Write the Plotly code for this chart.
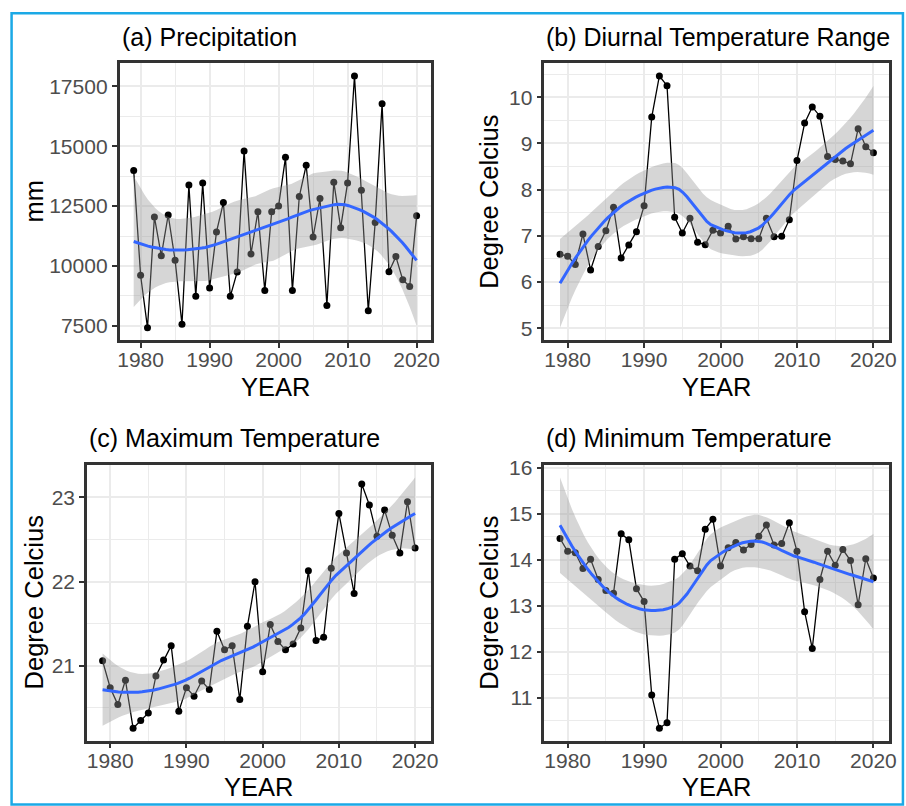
import numpy as np
import plotly.graph_objects as go

# ---- data -------------------------------------------------------------
years = list(range(1979, 2021))

precipitation = [13990, 9610, 7420, 12050, 10430, 12130, 10240, 7560, 13380, 8730,
                 13470, 9080, 11420, 12650, 8730, 9750, 14800, 10500, 12270, 8970,
                 12270, 12510, 14540, 8970, 12900, 14210, 11210, 12820, 8350, 13500,
                 11600, 13470, 17940, 13160, 8130, 11820, 16780, 9760, 10390, 9420,
                 9140, 12100]

diurnal_range = [6.60, 6.56, 6.38, 7.04, 6.26, 6.77, 7.11, 7.62, 6.52, 6.80,
                 7.09, 7.65, 9.57, 10.46, 10.25, 7.40, 7.06, 7.38, 6.86, 6.81,
                 7.12, 7.06, 7.21, 6.93, 6.98, 6.94, 6.94, 7.38, 6.98, 6.99,
                 7.35, 8.63, 9.44, 9.79, 9.59, 8.72, 8.65, 8.62, 8.56, 9.32,
                 8.93, 8.80]

max_temp = [21.06, 20.74, 20.54, 20.83, 20.26, 20.35, 20.44, 20.88, 21.07, 21.24,
            20.46, 20.74, 20.64, 20.82, 20.72, 21.41, 21.19, 21.24, 20.60, 21.47,
            22.00, 20.93, 21.49, 21.29, 21.19, 21.26, 21.45, 22.13, 21.30, 21.34,
            22.16, 22.81, 22.34, 21.86, 23.16, 22.91, 22.54, 22.85, 22.55, 22.34,
            22.95, 22.40]

min_temp = [14.46, 14.18, 14.15, 13.81, 14.01, 13.57, 13.33, 13.27, 14.56, 14.43,
            13.37, 13.09, 11.06, 10.34, 10.46, 14.01, 14.13, 13.86, 13.76, 14.66,
            14.88, 13.86, 14.26, 14.37, 14.21, 14.33, 14.51, 14.75, 14.32, 14.35,
            14.80, 14.18, 12.87, 12.07, 13.57, 14.18, 13.88, 14.22, 13.98, 13.02,
            14.02, 13.60]

panel_titles = ["(a) Precipitation", "(b) Diurnal Temperature Range",
                "(c) Maximum Temperature", "(d) Minimum Temperature"]
y_titles = ["mm", "Degree Celcius", "Degree Celcius", "Degree Celcius"]
x_title = "YEAR"
x_ticks = [1980, 1990, 2000, 2010, 2020]
y_ticks = [[7500, 10000, 12500, 15000, 17500],
           [5, 6, 7, 8, 9, 10],
           [21, 22, 23],
           [11, 12, 13, 14, 15, 16]]


# ---- loess smoother (span 0.75, degree 2, kd-tree interpolation) ------
def t_975(df):
    # Cornish-Fisher expansion of the Student t 97.5% quantile
    z = 1.959963984540054
    g1 = (z**3 + z) / 4
    g2 = (5*z**5 + 16*z**3 + 3*z) / 96
    g3 = (3*z**7 + 19*z**5 + 17*z**3 - 15*z) / 384
    g4 = (79*z**9 + 776*z**7 + 1482*z**5 - 1920*z**3 - 945*z) / 92160
    return z + g1/df + g2/df**2 + g3/df**3 + g4/df**4


def loess_band(x, y, xs, span=0.75, cell=0.2):
    x = np.asarray(x, float)
    y = np.asarray(y, float)
    n = len(x)
    q = int(np.floor(n * span + 1e-5))
    fc = int(np.floor(n * span * cell))
    xsrt = np.sort(x)

    # local quadratic operator rows (value and slope) at x0
    def local(x0):
        d = np.abs(x - x0)
        h = np.sort(d)[q - 1]
        w = np.clip(1 - (d / h) ** 3, 0, None) ** 3
        X = np.column_stack([np.ones(n), x - x0, (x - x0) ** 2])
        XtW = X.T * w
        B = np.linalg.solve(XtW @ X, XtW)
        return B[0], B[1]

    # kd-tree vertices
    mu = 0.005 * (xsrt[-1] - xsrt[0])
    lo_v, hi_v = xsrt[0] - mu, xsrt[-1] + mu
    cuts = []

    def build(l, u, a, b):
        if u - l + 1 <= fc:
            return
        m = (l + u) // 2
        t = xsrt[m - 1]
        if t == a or t == b:
            return
        cuts.append(t)
        build(l, m, a, t)
        build(m + 1, u, t, b)

    build(1, n, lo_v, hi_v)
    verts = np.array(sorted([lo_v, hi_v] + cuts))
    V, S = zip(*[local(v) for v in verts])
    V, S = np.array(V), np.array(S)

    def rows(pts):
        out = []
        for p in pts:
            j = int(np.clip(np.searchsorted(verts, p, side="right") - 1,
                            0, len(verts) - 2))
            wd = verts[j + 1] - verts[j]
            h = (p - verts[j]) / wd
            phi0 = (1 - h) ** 2 * (1 + 2 * h)
            phi1 = h ** 2 * (3 - 2 * h)
            psi0 = h * (1 - h) ** 2
            psi1 = -h ** 2 * (1 - h)
            out.append(phi0 * V[j] + phi1 * V[j + 1]
                       + (psi0 * S[j] + psi1 * S[j + 1]) * wd)
        return np.array(out)

    L = rows(x)
    Lp = rows(xs)
    fit = Lp @ y
    resid = y - L @ y
    M = np.eye(n) - L
    MtM = M.T @ M
    d1 = np.trace(MtM)
    d2 = np.trace(MtM @ MtM)
    s = np.sqrt(resid @ resid / d1)
    se = s * np.sqrt((Lp ** 2).sum(axis=1))
    t = t_975(d1 ** 2 / d2)
    return fit, fit - t * se, fit + t * se


# ---- layout geometry (pixels) -----------------------------------------
W, H = 906, 806
# (left, right, top, bottom) of each plotting panel
boxes = [(119, 434, 55, 335), (549, 898, 55, 335),
         (86, 434, 461, 740), (549, 898, 461, 740)]


def px(x, y):
    return x / W, 1 - y / H


FONT = "Liberation Sans, Arial, sans-serif"
series = [precipitation, diurnal_range, max_temp, min_temp]
xs = np.linspace(min(years), max(years), 80)

fig = go.Figure()
layout = dict(width=W, height=H, margin=dict(l=0, r=0, t=0, b=0),
              paper_bgcolor="white", plot_bgcolor="white", showlegend=False,
              font=dict(family=FONT))
annotations = []

for i, vals in enumerate(series):
    k = "" if i == 0 else str(i + 1)
    xa, ya = "x" + k, "y" + k
    fit, lo, hi = loess_band(years, vals, xs)

    fig.add_trace(go.Scatter(x=years, y=vals, mode="lines+markers",
                             line=dict(color="black", width=1.3),
                             marker=dict(color="black", size=7),
                             xaxis=xa, yaxis=ya, hoverinfo="skip"))
    fig.add_trace(go.Scatter(x=xs, y=lo, mode="lines", line=dict(width=0),
                             xaxis=xa, yaxis=ya, hoverinfo="skip"))
    fig.add_trace(go.Scatter(x=xs, y=hi, mode="lines", line=dict(width=0),
                             fill="tonexty", fillcolor="rgba(153,153,153,0.4)",
                             xaxis=xa, yaxis=ya, hoverinfo="skip"))
    fig.add_trace(go.Scatter(x=xs, y=fit, mode="lines",
                             line=dict(color="#3366FF", width=3),
                             xaxis=xa, yaxis=ya, hoverinfo="skip"))

    l, r, t, b = boxes[i]
    x0, y0 = px(l, b)
    x1, y1 = px(r, t)

    ymin = min(min(vals), lo.min())
    ymax = max(max(vals), hi.max())
    ypad = 0.05 * (ymax - ymin)
    xpad = 0.05 * (max(years) - min(years))
    yt = y_ticks[i]
    ystep = yt[1] - yt[0]

    common = dict(showline=True, mirror=True, linecolor="#333333", linewidth=2.5,
                  ticks="outside", ticklen=5, tickwidth=1.5, tickcolor="#333333",
                  showgrid=True, gridcolor="#EBEBEB", gridwidth=1.5, zeroline=False,
                  tickfont=dict(size=21, color="#4D4D4D", family=FONT))
    layout["xaxis" + k] = dict(common, domain=[x0, x1], anchor=ya,
                               range=[min(years) - xpad, max(years) + xpad],
                               tickmode="array", tickvals=x_ticks,
                               ticktext=[str(v) for v in x_ticks],
                               ticklabelstandoff=-6,
                               minor=dict(tickmode="linear", tick0=1975, dtick=5,
                                          showgrid=True, gridcolor="#EBEBEB",
                                          gridwidth=0.8))
    layout["yaxis" + k] = dict(common, domain=[y0, y1], anchor=xa,
                               range=[ymin - ypad, ymax + ypad],
                               tickmode="array", tickvals=yt,
                               ticktext=[str(v) for v in yt],
                               minor=dict(tickmode="linear", tick0=yt[0] - ystep / 2,
                                          dtick=ystep / 2, showgrid=True,
                                          gridcolor="#EBEBEB", gridwidth=0.8))

    # panel title, axis titles
    tx, ty = px(l, t - 27)
    annotations.append(dict(text=panel_titles[i], x=tx, y=ty, xref="paper",
                            yref="paper", xanchor="left", yanchor="middle",
                            showarrow=False, font=dict(size=25, color="black")))
    cx, cy = px((l + r) / 2, b + 47)
    annotations.append(dict(text=x_title, x=cx, y=cy, xref="paper", yref="paper",
                            xanchor="center", yanchor="middle", showarrow=False,
                            font=dict(size=25.5, color="black")))
    ax_x = 32 if i in (0, 2) else 493
    vx, vy = px(ax_x, (t + b) / 2)
    annotations.append(dict(text=y_titles[i], x=vx, y=vy, xref="paper",
                            yref="paper", xanchor="center", yanchor="middle",
                            textangle=-90, showarrow=False,
                            font=dict(size=25.5, color="black")))

layout["annotations"] = annotations
# light-blue outer frame (right edge runs off the page)
fx0, fy0 = px(9.7, 804.5)
fx1, fy1 = px(912, 4.3)
layout["shapes"] = [dict(type="rect", xref="paper", yref="paper",
                         x0=fx0, x1=fx1, y0=fy0, y1=fy1,
                         line=dict(color="#1BA9E6", width=2.5))]
fig.update_layout(**layout)
fig.write_html("out.html")
